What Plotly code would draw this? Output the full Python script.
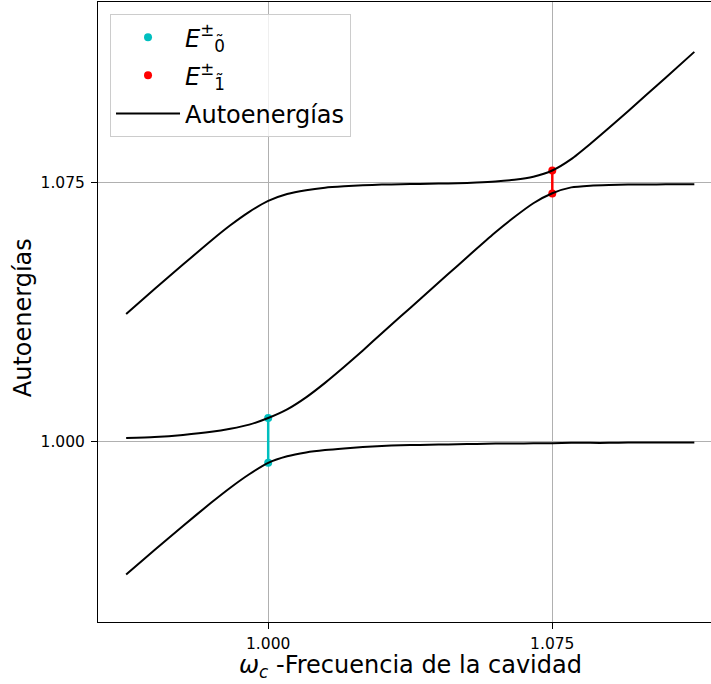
import plotly.graph_objects as go

# ---- data ----
omega_c = [0.9625, 0.9700, 0.9775, 0.9850, 0.9900, 0.9950, 1.0000, 1.0050, 1.0100, 1.0150,
           1.0200, 1.0250, 1.0300, 1.0350, 1.0400, 1.0450, 1.0500, 1.0550, 1.0600, 1.0650,
           1.0700, 1.0750, 1.0800, 1.0850, 1.0900, 1.0950, 1.1000, 1.1050, 1.1125]

e_top = [1.0369, 1.0441, 1.0512, 1.0582, 1.0626, 1.0665, 1.0697, 1.0717, 1.0728, 1.0735,
         1.0739, 1.0742, 1.0744, 1.0745, 1.0746, 1.0747, 1.0748, 1.0750, 1.0753, 1.0758,
         1.0767, 1.0785, 1.0818, 1.0862, 1.0909, 1.0957, 1.1006, 1.1055, 1.1129]

e_mid = [1.0009, 1.0012, 1.0018, 1.0027, 1.0036, 1.0048, 1.0067, 1.0092, 1.0127, 1.0169,
         1.0215, 1.0263, 1.0313, 1.0362, 1.0411, 1.0460, 1.0509, 1.0558, 1.0606, 1.0650,
         1.0690, 1.0719, 1.0736, 1.0741, 1.0743, 1.0744, 1.0744, 1.0745, 1.0745]

e_bot = [0.9613, 0.9684, 0.9754, 0.9822, 0.9865, 0.9904, 0.9937, 0.9956, 0.9967, 0.9974,
         0.9979, 0.9983, 0.9986, 0.9988, 0.9989, 0.9990, 0.9991, 0.9992, 0.9993, 0.9993,
         0.9994, 0.9994, 0.9995, 0.9995, 0.9995, 0.9996, 0.9996, 0.9996, 0.9996]

x_e0 = [1.000, 1.000]
y_e0 = [0.9937, 1.0067]
x_e1 = [1.075, 1.075]
y_e1 = [1.0718, 1.0785]

tick_vals = [1.000, 1.075]
tick_text = ["1.000", "1.075"]

name_e0 = "<i>E</i><sup>±</sup><sub>0̃</sub>"
name_e1 = "<i>E</i><sup>±</sup><sub>1̃</sub>"
name_auto = "Autoenergías"
x_title = "<i>ω</i><sub><i>c</i></sub> -Frecuencia de la cavidad"
y_title = "Autoenergías"

CYAN = "#00bfbf"
RED = "#ff0000"
FONT = "DejaVu Sans"

fig = go.Figure()

# vertical connectors and their end points
fig.add_trace(go.Scatter(x=x_e0, y=y_e0, mode="lines", line=dict(color=CYAN, width=2.5),
                         showlegend=False, hoverinfo="skip"))
fig.add_trace(go.Scatter(x=x_e0, y=y_e0, mode="markers", marker=dict(color=CYAN, size=8),
                         name=name_e0))
fig.add_trace(go.Scatter(x=x_e1, y=y_e1, mode="lines", line=dict(color=RED, width=2.5),
                         showlegend=False, hoverinfo="skip"))
fig.add_trace(go.Scatter(x=x_e1, y=y_e1, mode="markers", marker=dict(color=RED, size=8),
                         name=name_e1))

for i, ys in enumerate([e_top, e_mid, e_bot]):
    fig.add_trace(go.Scatter(x=omega_c, y=ys, mode="lines",
                             line=dict(color="black", width=2, shape="spline", smoothing=0.6),
                             name=name_auto, legendgroup="auto", showlegend=(i == 0)))

axis_common = dict(
    tickvals=tick_vals, ticktext=tick_text, ticks="outside", ticklen=6, tickwidth=1,
    tickcolor="black", showline=True, linecolor="black", linewidth=1,
    showgrid=True, gridcolor="#b0b0b0", gridwidth=1, zeroline=False,
    tickfont=dict(family=FONT, size=15.5, color="black"),
)

fig.update_layout(
    width=711, height=684,
    margin=dict(l=98, r=0, t=2, b=62),
    paper_bgcolor="white", plot_bgcolor="white",
    font=dict(family=FONT, color="black"),
    xaxis=dict(range=[0.955068, 1.11690], mirror=True, ticklabelstandoff=1, **axis_common),
    yaxis=dict(range=[0.947547, 1.127365], ticklabelstandoff=3, **axis_common),
    legend=dict(x=0.0196, y=0.9806, xanchor="left", yanchor="top",
                bgcolor="rgba(255,255,255,0.8)", bordercolor="#cccccc", borderwidth=1,
                font=dict(family=FONT, size=24, color="black"), itemwidth=64,
                tracegroupgap=4),
    annotations=[
        dict(text=x_title, xref="paper", yref="paper", x=0.5096, y=-0.1,
             xanchor="center", yanchor="bottom", showarrow=False,
             font=dict(family=FONT, size=24, color="black")),
        dict(text=y_title, xref="paper", yref="paper", x=-0.1228, y=0.4911,
             xanchor="center", yanchor="middle", showarrow=False, textangle=-90,
             font=dict(family=FONT, size=24, color="black")),
    ],
)

fig.write_html("out.html")
